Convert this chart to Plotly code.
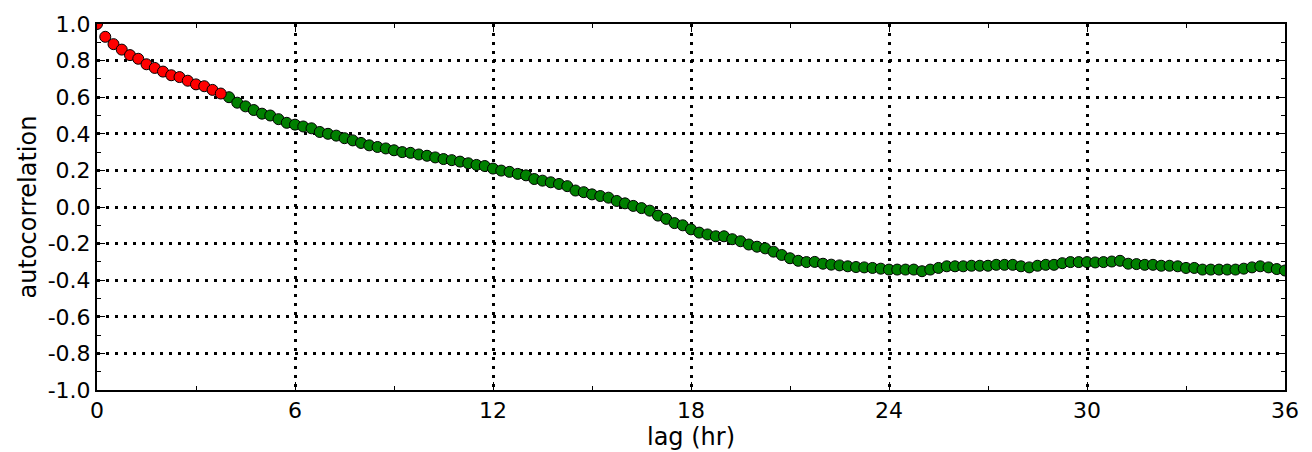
import plotly.graph_objects as go

lag_red = [0.00, 0.25, 0.50, 0.75, 1.00, 1.25, 1.50, 1.75, 2.00, 2.25, 2.50, 2.75,
           3.00, 3.25, 3.50, 3.75]
acf_red = [1.00, 0.93, 0.89, 0.86, 0.83, 0.81, 0.78, 0.76, 0.74, 0.72, 0.71, 0.69,
           0.67, 0.66, 0.64, 0.62]

lag_green = [4.00, 4.25, 4.50, 4.75, 5.00, 5.25, 5.50, 5.75, 6.00, 6.25, 6.50, 6.75,
             7.00, 7.25, 7.50, 7.75, 8.00, 8.25, 8.50, 8.75, 9.00, 9.25, 9.50, 9.75,
             10.00, 10.25, 10.50, 10.75, 11.00, 11.25, 11.50, 11.75, 12.00, 12.25, 12.50, 12.75,
             13.00, 13.25, 13.50, 13.75, 14.00, 14.25, 14.50, 14.75, 15.00, 15.25, 15.50, 15.75,
             16.00, 16.25, 16.50, 16.75, 17.00, 17.25, 17.50, 17.75, 18.00, 18.25, 18.50, 18.75,
             19.00, 19.25, 19.50, 19.75, 20.00, 20.25, 20.50, 20.75, 21.00, 21.25, 21.50, 21.75,
             22.00, 22.25, 22.50, 22.75, 23.00, 23.25, 23.50, 23.75, 24.00, 24.25, 24.50, 24.75,
             25.00, 25.25, 25.50, 25.75, 26.00, 26.25, 26.50, 26.75, 27.00, 27.25, 27.50, 27.75,
             28.00, 28.25, 28.50, 28.75, 29.00, 29.25, 29.50, 29.75, 30.00, 30.25, 30.50, 30.75,
             31.00, 31.25, 31.50, 31.75, 32.00, 32.25, 32.50, 32.75, 33.00, 33.25, 33.50, 33.75,
             34.00, 34.25, 34.50, 34.75, 35.00, 35.25, 35.50, 35.75, 36.00]
acf_green = [0.60, 0.57, 0.55, 0.53, 0.51, 0.50, 0.48, 0.46, 0.45, 0.44, 0.43, 0.41,
             0.40, 0.39, 0.376, 0.364, 0.35, 0.337, 0.328, 0.32, 0.31, 0.30, 0.296, 0.287,
             0.28, 0.271, 0.262, 0.256, 0.248, 0.239, 0.23, 0.224, 0.21, 0.199, 0.192, 0.181,
             0.173, 0.153, 0.144, 0.135, 0.126, 0.114, 0.09, 0.081, 0.069, 0.06, 0.051, 0.033,
             0.02, 0.006, -0.006, -0.02, -0.047, -0.065, -0.088, -0.10, -0.122, -0.14, -0.15, -0.16,
             -0.16, -0.176, -0.187, -0.205, -0.217, -0.226, -0.244, -0.262, -0.28, -0.294, -0.301, -0.30,
             -0.31, -0.315, -0.319, -0.324, -0.328, -0.33, -0.333, -0.337, -0.342, -0.342, -0.342, -0.342,
             -0.351, -0.342, -0.333, -0.324, -0.324, -0.324, -0.321, -0.321, -0.321, -0.316, -0.316, -0.316,
             -0.324, -0.33, -0.321, -0.316, -0.316, -0.307, -0.301, -0.301, -0.301, -0.303, -0.301, -0.298,
             -0.294, -0.31, -0.312, -0.316, -0.316, -0.321, -0.321, -0.324, -0.333, -0.333, -0.342, -0.342,
             -0.342, -0.342, -0.342, -0.337, -0.33, -0.324, -0.33, -0.339, -0.347]

x_ticks = [0, 6, 12, 18, 24, 30, 36]
y_ticks = [-1.0, -0.8, -0.6, -0.4, -0.2, 0.0, 0.2, 0.4, 0.6, 0.8, 1.0]
y_ticklabels = ["%.1f" % v for v in y_ticks]

FONT = "DejaVu Sans"

fig = go.Figure()
fig.add_trace(go.Scatter(x=lag_green, y=acf_green, mode="markers",
                         marker=dict(color="#008000", size=11, line=dict(color="black", width=1)),
                         showlegend=False))
fig.add_trace(go.Scatter(x=lag_red, y=acf_red, mode="markers",
                         marker=dict(color="#ff0000", size=11, line=dict(color="black", width=1)),
                         showlegend=False))

axis_common = dict(
    showline=True, linecolor="black", linewidth=2, mirror="allticks",
    ticks="inside", ticklen=8, tickwidth=1, tickcolor="black",
    showgrid=True, gridcolor="black", gridwidth=2.5, griddash="2.5px,6.5px",
    zeroline=False,
    tickfont=dict(family=FONT, size=22, color="black"),
)

fig.update_xaxes(range=[0, 36], tickmode="array", tickvals=x_ticks,
                 ticktext=[str(v) for v in x_ticks],
                 minor=dict(dtick=3, tick0=0, ticks="inside", ticklen=4, tickcolor="black", showgrid=False),
                 title=dict(text="lag (hr)", font=dict(family=FONT, size=24, color="black"), standoff=0),
                 **axis_common)
fig.update_yaxes(range=[-1, 1], tickmode="array", tickvals=y_ticks, ticktext=y_ticklabels,
                 minor=dict(dtick=0.1, tick0=0, ticks="inside", ticklen=4, tickcolor="black", showgrid=False),
                 title=dict(text="autocorrelation", font=dict(family=FONT, size=24, color="black"), standoff=4),
                 **axis_common)

fig.update_layout(
    width=1312, height=452,
    margin=dict(l=97, r=27, t=18, b=61),
    plot_bgcolor="white", paper_bgcolor="white",
    font=dict(family=FONT, color="black"),
)

fig.write_html("out.html")
